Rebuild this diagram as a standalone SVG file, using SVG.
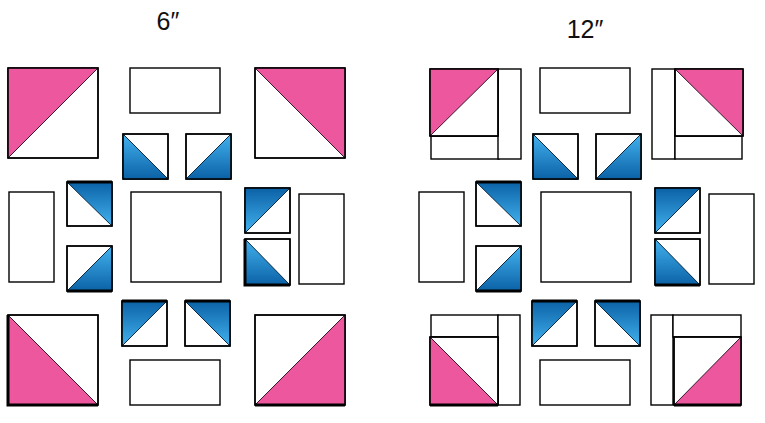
<svg xmlns="http://www.w3.org/2000/svg" width="765" height="423" viewBox="0 0 765 423">
<defs>
<linearGradient id="gDown" x1="0" y1="0" x2="0" y2="1"><stop offset="0" stop-color="#43B2EE"/><stop offset="1" stop-color="#0B62A6"/></linearGradient>
<linearGradient id="gUp" x1="0" y1="0" x2="0" y2="1"><stop offset="0" stop-color="#0B62A6"/><stop offset="1" stop-color="#43B2EE"/></linearGradient>
<style>
.bg{fill:#fff}
.o{fill:none;stroke:#000;stroke-width:1.4}
.w{fill:#fff;stroke:#000;stroke-width:1.4}
.p{fill:#EC579D;stroke:#3a1630;stroke-width:1}
.bd{fill:url(#gDown);stroke:#0a2a45;stroke-width:1}
.bu{fill:url(#gUp);stroke:#0a2a45;stroke-width:1}
.t{stroke:#000;stroke-width:3;fill:none}
.lbl{font-family:"Liberation Sans","Open Sans",sans-serif;font-size:25px;fill:#111;text-anchor:middle}
</style>
</defs>
<rect class="bg" x="0" y="0" width="765" height="423"/>
<g id="labels">
<text class="lbl" x="168" y="30">6″</text>
<text class="lbl" x="585" y="38">12″</text>
</g>
<g id="block6">
<g id="l-tl"><rect class="w" x="8" y="68" width="90" height="90"/><polygon class="p" points="8,68 98,68 8,158"/><rect class="o" x="8" y="68" width="90" height="90"/></g>
<rect id="l-top" class="w" x="130" y="68" width="90" height="45"/>
<g id="l-tr"><rect class="w" x="255" y="68" width="90" height="90"/><polygon class="p" points="255,68 345,68 345,158"/><rect class="o" x="255" y="68" width="90" height="90"/></g>
<g id="l-h1"><rect class="w" x="123" y="134" width="45" height="45"/><polygon class="bd" points="123,134 123,179 168,179"/><rect class="o" x="123" y="134" width="45" height="45"/></g>
<g id="l-h2"><rect class="w" x="186" y="134" width="45" height="45"/><polygon class="bd" points="231,134 231,179 186,179"/><rect class="o" x="186" y="134" width="45" height="45"/></g>
<rect id="l-left" class="w" x="9" y="192" width="45" height="90"/>
<g id="l-h3"><rect class="w" x="67" y="182" width="45" height="44"/><polygon class="bu" points="67,182 112,182 112,226"/><rect class="o" x="67" y="182" width="45" height="44"/><line class="t" x1="67" y1="182" x2="112" y2="182"/></g>
<g id="l-h4"><rect class="w" x="67" y="246" width="45" height="45"/><polygon class="bd" points="112,246 112,291 67,291"/><rect class="o" x="67" y="246" width="45" height="45"/><line class="t" x1="67" y1="291" x2="112" y2="291"/></g>
<rect id="l-center" class="w" x="131" y="192" width="90" height="90"/>
<g id="l-h5"><rect class="w" x="245" y="188" width="45" height="45"/><polygon class="bu" points="245,188 290,188 245,233"/><rect class="o" x="245" y="188" width="45" height="45"/></g>
<g id="l-h6"><rect class="w" x="245" y="239" width="45" height="46"/><polygon class="bd" points="245,239 245,285 290,285"/><rect class="o" x="245" y="239" width="45" height="46"/><polyline class="t" points="245,239 245,285 290,285"/></g>
<rect id="l-right" class="w" x="299" y="194" width="45" height="90"/>
<g id="l-h7"><rect class="w" x="122" y="301" width="45" height="45"/><polygon class="bu" points="122,301 167,301 122,346"/><rect class="o" x="122" y="301" width="45" height="45"/><line class="t" x1="122" y1="301" x2="167" y2="301"/></g>
<g id="l-h8"><rect class="w" x="185" y="301" width="45" height="45"/><polygon class="bu" points="185,301 230,301 230,346"/><rect class="o" x="185" y="301" width="45" height="45"/><line class="t" x1="185" y1="301" x2="230" y2="301"/></g>
<rect id="l-bottom" class="w" x="130" y="360" width="90" height="45"/>
<g id="l-bl"><rect class="w" x="8" y="315" width="90" height="90"/><polygon class="p" points="8,315 8,405 98,405"/><rect class="o" x="8" y="315" width="90" height="90"/><polyline class="t" points="8,315 8,405 98,405"/></g>
<g id="l-br"><rect class="w" x="255" y="315" width="90" height="90"/><polygon class="p" points="345,315 345,405 255,405"/><rect class="o" x="255" y="315" width="90" height="90"/><line class="t" x1="255" y1="405" x2="345" y2="405"/></g>
</g>
<g id="block12">
<g id="r-tl"><rect class="w" x="431" y="136" width="68" height="23"/><rect class="w" x="498" y="69" width="23" height="90"/><rect class="w" x="430" y="69" width="68" height="67"/><polygon class="p" points="430,69 498,69 430,136"/><rect class="o" x="430" y="69" width="68" height="67"/></g>
<rect id="r-top" class="w" x="540" y="68" width="90" height="45"/>
<g id="r-tr"><rect class="w" x="652" y="69" width="23" height="90"/><rect class="w" x="675" y="136" width="67" height="23"/><rect class="w" x="675" y="69" width="68" height="67"/><polygon class="p" points="675,69 743,69 743,136"/><rect class="o" x="675" y="69" width="68" height="67"/></g>
<g id="r-h1"><rect class="w" x="533" y="134" width="45" height="45"/><polygon class="bd" points="533,134 533,179 578,179"/><rect class="o" x="533" y="134" width="45" height="45"/></g>
<g id="r-h2"><rect class="w" x="596" y="134" width="45" height="45"/><polygon class="bd" points="641,134 641,179 596,179"/><rect class="o" x="596" y="134" width="45" height="45"/></g>
<rect id="r-left" class="w" x="419" y="192" width="45" height="90"/>
<g id="r-h3"><rect class="w" x="476" y="182" width="45" height="44"/><polygon class="bu" points="476,182 521,182 521,226"/><rect class="o" x="476" y="182" width="45" height="44"/><line class="t" x1="476" y1="182" x2="521" y2="182"/></g>
<g id="r-h4"><rect class="w" x="476" y="246" width="45" height="45"/><polygon class="bd" points="521,246 521,291 476,291"/><rect class="o" x="476" y="246" width="45" height="45"/><line class="t" x1="476" y1="291" x2="521" y2="291"/></g>
<rect id="r-center" class="w" x="541" y="192" width="90" height="90"/>
<g id="r-h5"><rect class="w" x="655" y="188" width="45" height="45"/><polygon class="bu" points="655,188 700,188 655,233"/><rect class="o" x="655" y="188" width="45" height="45"/></g>
<g id="r-h6"><rect class="w" x="655" y="239" width="45" height="46"/><polygon class="bd" points="655,239 655,285 700,285"/><rect class="o" x="655" y="239" width="45" height="46"/><line class="t" x1="655" y1="285" x2="700" y2="285"/></g>
<rect id="r-right" class="w" x="709" y="194" width="45" height="90"/>
<g id="r-h7"><rect class="w" x="532" y="301" width="45" height="45"/><polygon class="bu" points="532,301 577,301 532,346"/><rect class="o" x="532" y="301" width="45" height="45"/><line class="t" x1="532" y1="301" x2="577" y2="301"/></g>
<g id="r-h8"><rect class="w" x="595" y="301" width="45" height="45"/><polygon class="bu" points="595,301 640,301 640,346"/><rect class="o" x="595" y="301" width="45" height="45"/><line class="t" x1="595" y1="301" x2="640" y2="301"/></g>
<rect id="r-bottom" class="w" x="540" y="360" width="90" height="45"/>
<g id="r-bl"><rect class="w" x="431" y="315" width="67" height="22"/><rect class="w" x="498" y="315" width="22" height="90"/><rect class="w" x="430" y="337" width="68" height="68"/><polygon class="p" points="430,337 430,405 498,405"/><rect class="o" x="430" y="337" width="68" height="68"/><line class="t" x1="430" y1="405" x2="498" y2="405"/></g>
<g id="r-br"><rect class="w" x="651" y="315" width="22" height="90"/><rect class="w" x="673" y="315" width="68" height="22"/><rect class="w" x="674" y="337" width="67" height="68"/><polygon class="p" points="741,337 741,405 674,405"/><rect class="o" x="674" y="337" width="67" height="68"/><line class="t" x1="674" y1="405" x2="741" y2="405"/></g>
</g>
</svg>
